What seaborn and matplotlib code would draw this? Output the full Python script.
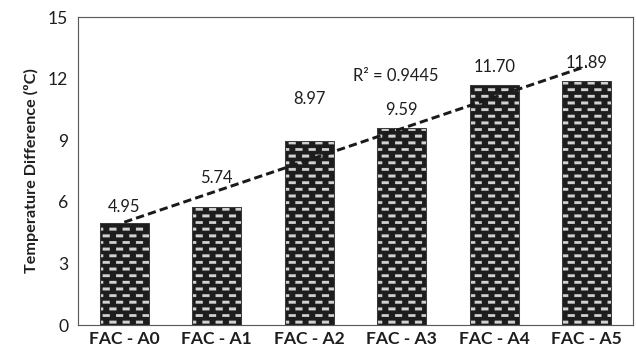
import numpy as np
import matplotlib
matplotlib.use("Agg")
import matplotlib.pyplot as plt
import matplotlib.hatch as mhatch
from matplotlib.path import Path
import seaborn as sns

# ---- data -------------------------------------------------------------
categories = ["FAC - A0", "FAC - A1", "FAC - A2", "FAC - A3", "FAC - A4", "FAC - A5"]
temp_diff = [4.95, 5.74, 8.97, 9.59, 11.70, 11.89]
value_labels = ["4.95", "5.74", "8.97", "9.59", "11.70", "11.89"]
y_ticks = [0, 3, 6, 9, 12, 15]
r2_label = "R² = 0.9445"
y_title = "Temperature Difference (ºC)"

# vertical gap (points) between each bar top and its value label
label_gap = [8.5, 19, 28.5, 10, 10, 10]


# ---- brick-like dash hatch (replaces the '*' hatch) ---------------------
class BrickDashes(mhatch.HatchPatternBase):
    rows = 14
    cols = 7
    dash_w = 0.52
    dash_h = 0.40

    def __init__(self, hatch, density):
        if hatch.count("*"):
            self.num_vertices = self.rows * (self.cols + 1) * 5
        else:
            self.num_vertices = 0

    def set_vertices_and_codes(self, vertices, codes):
        rp = 1.0 / self.rows
        cp = 1.0 / self.cols
        w = cp * self.dash_w / 2
        h = rp * self.dash_h / 2
        rect = np.array([[-w, -h], [w, -h], [w, h], [-w, h], [-w, -h]])
        rcodes = [Path.MOVETO, Path.LINETO, Path.LINETO, Path.LINETO, Path.CLOSEPOLY]
        vparts, cparts = [], []
        for r in range(self.rows):
            shift = 0.0 if r % 2 == 0 else cp / 2
            yc = (r + 0.5) * rp
            for c in range(self.cols + 1):
                vparts.append(rect + [c * cp + shift, yc])
                cparts.append(rcodes)
        np.concatenate(vparts, out=vertices)
        np.concatenate(cparts, out=codes)


mhatch._hatch_types = [BrickDashes if t is mhatch.Stars else t
                       for t in mhatch._hatch_types]

# ---- style ------------------------------------------------------------
sns.set_theme(style="white")
plt.rcParams["font.family"] = ["Lato", "DejaVu Sans"]
plt.rcParams["hatch.linewidth"] = 0.2

DPI = 93
fig = plt.figure(figsize=(636 / DPI, 355 / DPI), dpi=DPI)
ax = fig.add_axes([78 / 636, 1 - 325 / 355, (633 - 78) / 636, (325 - 17) / 355])

bar_face = "#1d1d1d"
dash_col = "#d2d2d2"
frame_col = "#5a5a5a"
text_col = "#1e1e1e"

sns.barplot(x=categories, y=temp_diff, width=0.53, color=bar_face,
            saturation=1, ax=ax)
for p in ax.patches:
    p.set_edgecolor(dash_col)
    p.set_linewidth(0)
    p.set_hatch("*")

sns.barplot(x=categories, y=temp_diff, width=0.53, fill=False,
            color="#3c3c3c", linewidth=0.8, ax=ax)

# linear trend through the bar values
sns.regplot(x=np.arange(len(temp_diff)), y=np.array(temp_diff), scatter=False,
            ci=None, truncate=True, ax=ax,
            line_kws=dict(color="#1a1a1a", lw=2.3, ls=(0, (2.8, 1.4))))

for i, (v, txt) in enumerate(zip(temp_diff, value_labels)):
    ax.annotate(txt, (i, v), xytext=(0, label_gap[i]), textcoords="offset points",
                ha="center", va="baseline", fontsize=12.8, color=text_col)

ax.text(2.47, 12.15, r2_label, ha="left", va="center", fontsize=12.8, color=text_col)

ax.set_xlim(-0.5, len(categories) - 0.5)
ax.set_ylim(0, 15)
ax.set_yticks(y_ticks)
ax.set_yticklabels([str(t) for t in y_ticks])
ax.set_xlabel("")
ax.set_ylabel(y_title, fontsize=12.5, fontweight="bold", color=text_col, labelpad=7)

ax.tick_params(axis="y", length=0, pad=7.5, labelsize=13.5, labelcolor=text_col)
ax.tick_params(axis="x", length=0, pad=5, labelsize=13.5, labelcolor=text_col)
for lab in ax.get_xticklabels():
    lab.set_fontweight("bold")

for s in ax.spines.values():
    s.set_visible(True)
    s.set_color(frame_col)
    s.set_linewidth(0.9)

fig.savefig("out.png", dpi=DPI)
